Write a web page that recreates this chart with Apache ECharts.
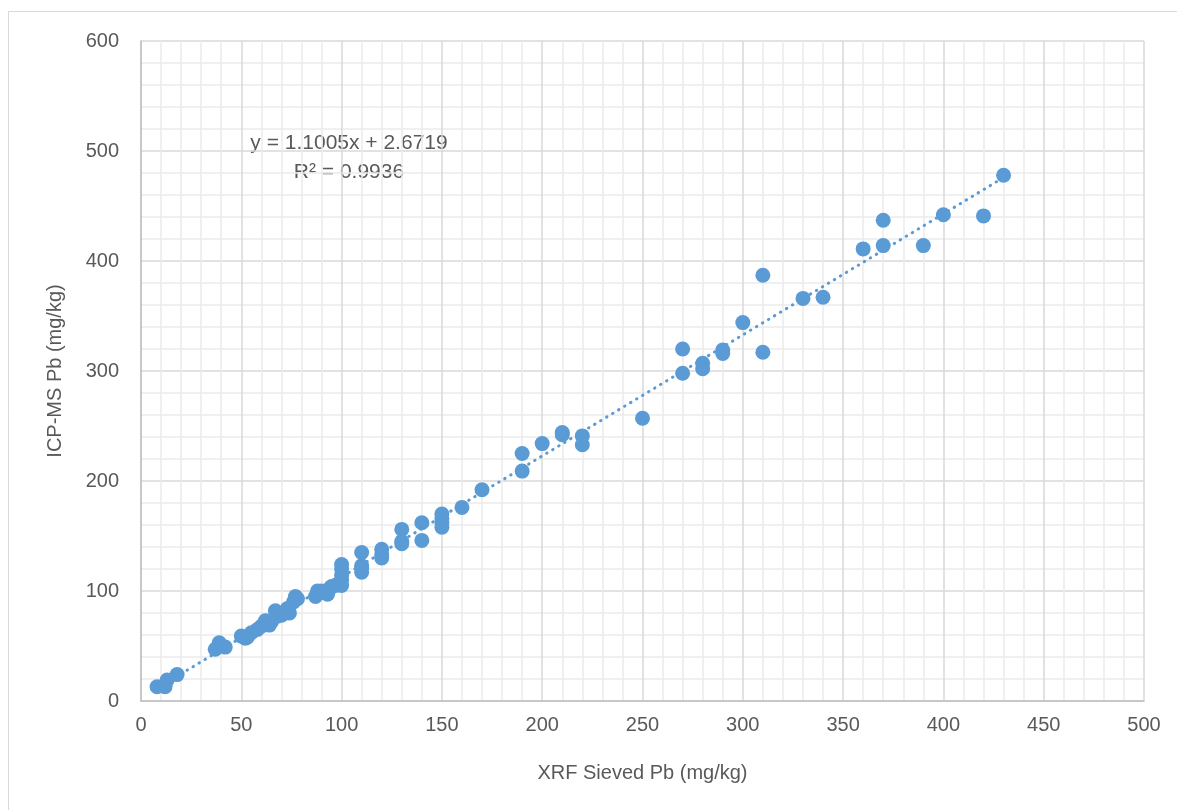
<!DOCTYPE html>
<html>
<head>
<meta charset="utf-8">
<script src="https://cdn.jsdelivr.net/npm/echarts@6/dist/echarts.min.js"></script>
<style>
html, body { margin: 0; padding: 0; background: #fff; }
#main { width: 1177px; height: 810px; }
</style>
</head>
<body>
<div id="main"></div>
<script>
// XRF sieved Pb vs ICP-MS Pb (mg/kg)
var xrfPb = [8, 12, 13, 18, 37, 39, 42, 50, 52, 53, 55, 58, 60, 62, 64, 65, 67, 68, 70, 72, 73, 74, 76, 77, 78,
  87, 88, 90, 92, 93, 94, 95, 97, 98, 100, 100, 100, 100, 100, 110, 110, 110, 110, 120, 120, 120,
  130, 130, 130, 140, 140, 150, 150, 150, 150, 160, 170, 190, 190, 200, 210, 210, 220, 220, 250,
  270, 270, 280, 280, 290, 290, 300, 310, 310, 330, 340, 360, 370, 370, 390, 400, 420, 430];
var icpPb = [13, 13, 19, 24, 47, 53, 49, 59, 57, 58, 62, 65, 68, 73, 69, 72, 82, 77, 78, 80, 84, 80, 90, 95, 93,
  95, 100, 100, 99, 97, 102, 104, 105, 106, 105, 110, 114, 120, 124, 117, 121, 123, 135, 130, 133, 138,
  143, 145, 156, 146, 162, 158, 162, 166, 170, 176, 192, 209, 225, 234, 242, 244, 233, 241, 257,
  298, 320, 302, 307, 316, 319, 344, 317, 387, 366, 367, 411, 414, 437, 414, 442, 441, 478];

// linear trendline as printed on the chart
var slope = 1.1005;
var intercept = 2.6719;
var r2 = 0.9936;

var points = xrfPb.map(function (x, i) { return [x, icpPb[i]]; });
var xMin = Math.min.apply(null, xrfPb);
var xMax = Math.max.apply(null, xrfPb);
var trend = [[xMin, slope * xMin + intercept], [xMax, slope * xMax + intercept]];

var blue = '#5b9bd5';
var textColor = '#595959';
var font = 'Liberation Sans';

var myChart = echarts.init(document.getElementById('main'));

var option = {
  animation: false,
  textStyle: { fontFamily: font },
  grid: { left: 141, right: 33, top: 41, bottom: 109 },
  xAxis: {
    type: 'value',
    min: 0, max: 500, interval: 50,
    name: 'XRF Sieved Pb (mg/kg)',
    nameLocation: 'middle',
    nameGap: 62,
    nameTextStyle: { color: textColor, fontSize: 20, fontFamily: font },
    axisLine: { show: true, lineStyle: { color: '#bfbfbf', width: 1.5 } },
    axisTick: { show: false },
    axisLabel: { color: textColor, fontSize: 20, margin: 14 },
    splitLine: { show: true, lineStyle: { color: '#d9d9d9', width: 1.5 } },
    minorTick: { show: false, splitNumber: 5 },
    minorSplitLine: { show: true, lineStyle: { color: '#ececec', width: 1.5 } }
  },
  yAxis: {
    type: 'value',
    min: 0, max: 600, interval: 100,
    name: 'ICP-MS Pb (mg/kg)',
    nameLocation: 'middle',
    nameGap: 76,
    nameTextStyle: { color: textColor, fontSize: 20, fontFamily: font },
    axisLine: { show: true, lineStyle: { color: '#bfbfbf', width: 1.5 } },
    axisTick: { show: false },
    axisLabel: { color: textColor, fontSize: 20, margin: 22 },
    splitLine: { show: true, lineStyle: { color: '#d9d9d9', width: 1.5 } },
    minorTick: { show: false, splitNumber: 5 },
    minorSplitLine: { show: true, lineStyle: { color: '#ececec', width: 1.5 } }
  },
  series: [
    {
      name: 'Linear',
      type: 'line',
      data: trend,
      symbol: 'none',
      z: 3,
      lineStyle: { color: blue, width: 3, type: [0.5, 6.5], cap: 'round' }
    },
    {
      name: 'Pb',
      type: 'scatter',
      data: points,
      symbol: 'circle',
      symbolSize: 15,
      z: 2,
      itemStyle: { color: blue, opacity: 1 }
    }
  ],
  graphic: [
    {
      type: 'rect',
      shape: { x: 8.5, y: 11.5, width: 1200, height: 850 },
      style: { fill: 'none', stroke: '#d9d9d9', lineWidth: 1 },
      silent: true
    },
    {
      type: 'text', x: 349, y: 143,
      style: { text: 'y = 1.1005x + 2.6719', fill: textColor, font: '21px "Liberation Sans"',
        textAlign: 'center', textVerticalAlign: 'middle' }
    },
    {
      type: 'text', x: 349, y: 172,
      style: { text: 'R\u00b2 = ' + r2.toFixed(4), fill: textColor, font: '21px "Liberation Sans"',
        textAlign: 'center', textVerticalAlign: 'middle' }
    }
  ]
};

myChart.setOption(option);
window.onresize = function () {
  myChart.resize();
};
</script>
</body>
</html>
